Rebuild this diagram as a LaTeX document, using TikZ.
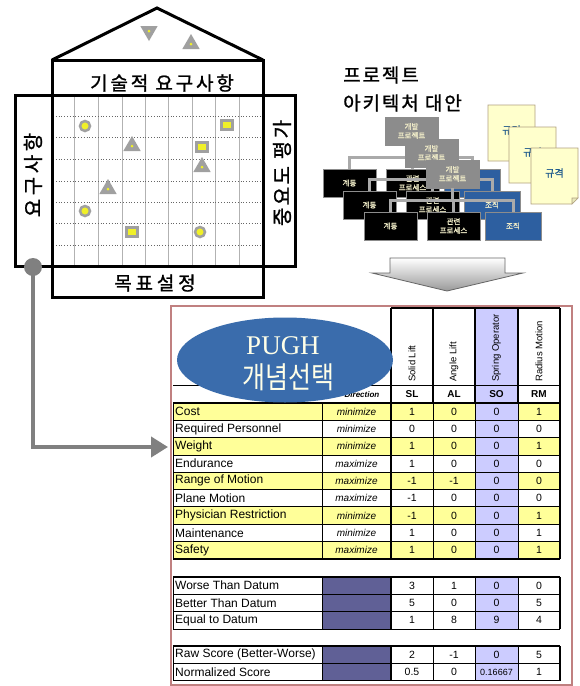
\documentclass[tikz,border=0pt]{standalone}
\usepackage{fontspec}
\setmainfont{Liberation Sans}
\newfontfamily\kr{Noto Sans CJK KR}
\newfontfamily\krb[FakeBold=1.2]{Noto Sans CJK KR}
\newfontfamily\pughserif{Liberation Serif}
\usetikzlibrary{arrows.meta,shapes.geometric}
\definecolor{pughblue}{RGB}{58,108,172}
\definecolor{lav}{RGB}{204,204,255}
\definecolor{yel}{RGB}{255,255,153}
\definecolor{slate}{RGB}{96,96,150}
\definecolor{rosy}{RGB}{192,128,128}
\definecolor{docyel}{RGB}{255,255,204}
\definecolor{docline}{RGB}{176,160,128}
\definecolor{doctext}{RGB}{30,90,140}
\definecolor{orgblue}{RGB}{45,95,160}
\definecolor{boxtext}{RGB}{240,236,200}
\definecolor{conngray}{RGB}{128,128,128}
\definecolor{symgray}{RGB}{160,160,160}
\definecolor{symyel}{RGB}{240,240,40}
\definecolor{archgray}{RGB}{170,170,170}
\definecolor{projgray}{RGB}{140,140,140}
\definecolor{pughtext}{RGB}{255,255,232}
\newcommand\tabsec[2]{%
  \foreach \k in {0,...,#2} {\draw[tline] (173,{#1+17.3*\k}) -- (560,{#1+17.3*\k});}
  \draw[tline] (173,#1) -- (173,{#1+17.3*#2});
  \draw[tline] (322,#1) -- (322,{#1+17.3*#2});
  \draw[thline] (391,#1) -- (391,{#1+17.3*#2});
  \draw[tline] (433,#1) -- (433,{#1+17.3*#2});
  \draw[tline] (475,#1) -- (475,{#1+17.3*#2});
  \draw[tline] (518,#1) -- (518,{#1+17.3*#2});
  \draw[thline] (560,#1) -- (560,{#1+17.3*#2});
  \draw[thline] (173,#1) -- (560,#1);
}
\tikzset{
  housebox/.style={draw=black, line width=3pt},
  krlabel/.style={font=\krb\fontsize{19}{19}\selectfont, inner sep=0},
  gridv/.style={draw=black!30, line width=0.6pt},
  gridh/.style={draw=black!60, line width=0.8pt, dotted},
  circsym/.style={circle, draw=symgray, line width=2.5pt, fill=symyel, minimum size=10pt, inner sep=0},
  sqsym/.style={rectangle, draw=symgray, line width=2.5pt, fill=symyel, minimum width=11pt, minimum height=9pt, inner sep=0},
  trisym/.style={regular polygon, regular polygon sides=3, fill=symgray, minimum size=20pt, inner sep=0},
  tridot/.style={circle, fill=symyel, minimum size=3pt, inner sep=0},
  archbox/.style={minimum width=53pt, minimum height=28pt, inner sep=0, align=center,
     font=\krb\fontsize{7.5}{9}\selectfont, text=boxtext, line width=0.8pt},
  graybox/.style={archbox, fill=projgray, draw=black!45},
  blackbox/.style={archbox, fill=black, draw=black!45},
  bluebox/.style={archbox, fill=orgblue, draw=black!45, minimum width=56pt},
  archconn/.style={draw=archgray, line width=3pt},
  docshape/.style={fill=docyel, draw=docline, line width=0.6pt},
  docfold/.style={fill=docyel!70!black!30!docyel, draw=docline, line width=0.6pt},
  doclabel/.style={font=\krb\fontsize{10}{10}\selectfont, text=doctext, inner sep=0},
  tline/.style={draw=black, line width=0.7pt},
  thline/.style={draw=black, line width=1.6pt},
  lbl/.style={anchor=west, inner sep=0, font=\fontsize{12}{12}\selectfont},
  dirtext/.style={inner sep=0, font=\itshape\fontsize{10}{10}\selectfont},
  num/.style={inner sep=0, font=\fontsize{10.5}{10.5}\selectfont},
  abbr/.style={inner sep=0, font=\bfseries\fontsize{10}{10}\selectfont},
  rottext/.style={rotate=90, anchor=west, inner sep=0, font=\fontsize{9.5}{9.5}\selectfont},
}
\begin{document}
\begin{tikzpicture}[x=1pt,y=-1pt]
\useasboundingbox[fill=white] (0,0) rectangle (579,686);

% ---------------- House of quality ----------------
\foreach \x in {74,98,122,145,168,192,215,239} \draw[gridv] (\x,95) -- (\x,266);
\foreach \y in {116,137,159,181,202,223,245} \draw[gridh] (53,\y) -- (262,\y);
\draw[housebox] (15,95) rectangle (295,266);
\draw[housebox] (52,60) rectangle (263,297);
\draw[housebox, line join=miter] (52,60) -- (157,8) -- (263,60);

\node[krlabel, font=\krb\fontsize{19}{19}\selectfont\addfontfeature{LetterSpace=15}] (techreq) at (162,83) {기술적 요구사항};
\node[krlabel, rotate=90, font=\krb\fontsize{20}{20}\selectfont\addfontfeature{LetterSpace=18}] (custreq) at (33,175) {요구사항};
\node[krlabel, rotate=90, font=\krb\fontsize{20}{20}\selectfont\addfontfeature{LetterSpace=12}] (importance) at (282,173) {중요도 평가};
\node[krlabel, font=\krb\fontsize{19}{19}\selectfont\addfontfeature{LetterSpace=20}] (goal) at (155,283) {목표설정};

% symbols
\node[trisym, shape border rotate=180] (roofA) at (149,31) {};
\node[tridot] (roofAd) at (roofA.center) {};
\node[trisym] (roofB) at (191,44) {};
\node[tridot] (roofBd) at (roofB.center) {};
\node[circsym] (c1) at (85,126) {};
\node[circsym] (c2) at (85,211) {};
\node[circsym] (c3) at (200,232) {};
\node[sqsym] (s1) at (227,125) {};
\node[sqsym] (s2) at (202,147) {};
\node[sqsym] (s3) at (132,232) {};
\node[trisym] (t1) at (132,146) {};
\node[tridot] (t1d) at (t1.center) {};
\node[trisym] (t2) at (202,167) {};
\node[tridot] (t2d) at (t2.center) {};
\node[trisym] (t3) at (108,189) {};
\node[tridot] (t3d) at (t3.center) {};

% ---------------- Architecture alternatives ----------------
\node[anchor=west, inner sep=0, font=\krb\fontsize{19}{19}\selectfont\addfontfeature{LetterSpace=10}] (archt1) at (343,75) {프로젝트};
\node[anchor=west, inner sep=0, font=\krb\fontsize{19}{19}\selectfont\addfontfeature{LetterSpace=10}] (archt2) at (343,103) {아키텍처 대안};

\foreach \dx/\dy/\n in {0/0/1, 20/22/2, 41/43/3} {
  \node[graybox] (gp\n) at (411.5+\dx,131+\dy) {개발\\프로젝트};
  \node[blackbox] (sy\n) at (349.5+\dx,183+\dy) {계통};
  \node[blackbox] (rel\n) at (412.5+\dx,183+\dy) {관련\\프로세스};
  \node[bluebox] (org\n) at (472+\dx,183+\dy) {조직};
  \draw[archconn] (gp\n.south) -- ++(0,12) coordinate (hb\n);
  \draw[archconn] (sy\n.north) |- (hb\n) -| (org\n.north);
  \draw[archconn] (rel\n.north) -- (rel\n.north |- hb\n);
}

\foreach \x/\y/\n in {488/105/1, 509/127/2, 531/148/3} {
  \filldraw[docshape] (\x,\y) -- (\x+47,\y) -- (\x+47,\y+50) -- (\x+41,\y+56) -- (\x,\y+56) -- cycle;
  \filldraw[docfold] (\x+47,\y+50) -- (\x+41,\y+50) -- (\x+41,\y+56) -- cycle;
  \node[doclabel] (doc\n) at (\x+23.5,\y+25) {규격};
}

% big down arrow
\path[draw=black!60, line width=0.8pt, top color=white, bottom color=black!40]
  (390,258) -- (505,258) -- (505,273) -- (523,273) -- (447,291) -- (372,273) -- (390,273) -- cycle;

% ---------------- Pugh table ----------------
\draw[rosy, line width=1.2pt] (171,306) rectangle (572,685);
\fill[lav] (475,308) rectangle (518,403);
\foreach \i in {0,2,4,6,8} {
  \fill[yel] (173,{403+17.3*\i}) rectangle (475,{403+17.3*(\i+1)});
  \fill[yel] (518,{403+17.3*\i}) rectangle (560,{403+17.3*(\i+1)});
}
\fill[lav] (475,403) rectangle (518,558.7);
\fill[lav] (475,577) rectangle (518,628.9);
\fill[lav] (475,646) rectangle (518,680.6);
\fill[slate] (322,577) rectangle (391,628.9);
\fill[slate] (322,646) rectangle (391,680.6);

\draw[thline] (391,308) -- (560,308);
\foreach \x in {391,433,475,518,560} \draw[thline] (\x,308) -- (\x,403);
\draw[tline] (173,385) -- (560,385);
\tabsec{403}{9}
\draw[thline] (173,558.7) -- (560,558.7);
\tabsec{577}{3}
\tabsec{646}{2}

\foreach \x/\t/\n in {412/Solid Lift/hsl, 454/Angle Lift/hal, 496.5/Spring Operator/hso, 539/Radius Motion/hrm}
  \node[rottext] (\n) at (\x,382) {\t};
\node[inner sep=0, font=\bfseries\itshape\fontsize{8}{8}\selectfont] (dirhead) at (362,395) {Direction};
\foreach \x/\t/\n in {412/SL/asl, 454/AL/aal, 496.5/SO/aso, 539/RM/arm}
  \node[abbr] (\n) at (\x,394) {\t};

\foreach \lab/\dr/\a/\b/\c/\d [count=\i from 0] in {
  Cost/minimize/1/0/0/1,
  Required Personnel/minimize/0/0/0/0,
  Weight/minimize/1/0/0/1,
  Endurance/maximize/1/0/0/0,
  Range of Motion/maximize/-1/-1/0/0,
  Plane Motion/maximize/-1/0/0/0,
  Physician Restriction/minimize/-1/0/0/1,
  Maintenance/minimize/1/0/0/1,
  Safety/maximize/1/0/0/1}
{
  \pgfmathsetmacro\yy{411.65+17.3*\i}
  \node[lbl] (lab\i) at (175,\yy) {\lab};
  \node[dirtext] (dir\i) at (356.5,\yy) {\dr};
  \node[num] (sl\i) at (412,\yy) {\a};
  \node[num] (al\i) at (454,\yy) {\b};
  \node[num] (so\i) at (496.5,\yy) {\c};
  \node[num] (rm\i) at (539,\yy) {\d};
}

\foreach \lab/\a/\b/\c/\d/\yy/\n in {
  Worse Than Datum/3/1/0/0/585.65/w,
  Better Than Datum/5/0/0/5/602.95/b,
  Equal to Datum/1/8/9/4/620.25/e,
  {Raw Score (Better-Worse)}/2/-1/0/5/654.65/r,
  Normalized Score/0.5/0/{\fontsize{9}{9}\selectfont 0.16667}/1/671.95/n}
{
  \node[lbl] (lab\n) at (175,\yy) {\lab};
  \node[num] (sl\n) at (412,\yy) {\a};
  \node[num] (al\n) at (454,\yy) {\b};
  \node[num] (so\n) at (496.5,\yy) {\c};
  \node[num] (rm\n) at (539,\yy) {\d};
}

% PUGH ellipse
\node[ellipse, fill=pughblue, minimum width=216pt, minimum height=85pt, inner sep=0] (pugh) at (285,360) {};
\node[inner sep=0, text=pughtext, font=\pughserif\fontsize{27}{27}\selectfont] (pughtitle) at (283,346) {PUGH};
\node[inner sep=0, text=pughtext, font=\kr\fontsize{25}{25}\selectfont] (pughkr) at (288,377) {\scalebox{1}[1.2]{개념선택}};

% ---------------- connector from house to table ----------------
\node[circle, fill=conngray, minimum size=18pt, inner sep=0] (dot) at (33,267) {};
\coordinate (wtgt) at (168,447);
\draw[conngray, line width=4pt, -{Triangle[length=17pt,width=20pt]}] (dot.center) |- (wtgt);
\end{tikzpicture}
\end{document}
